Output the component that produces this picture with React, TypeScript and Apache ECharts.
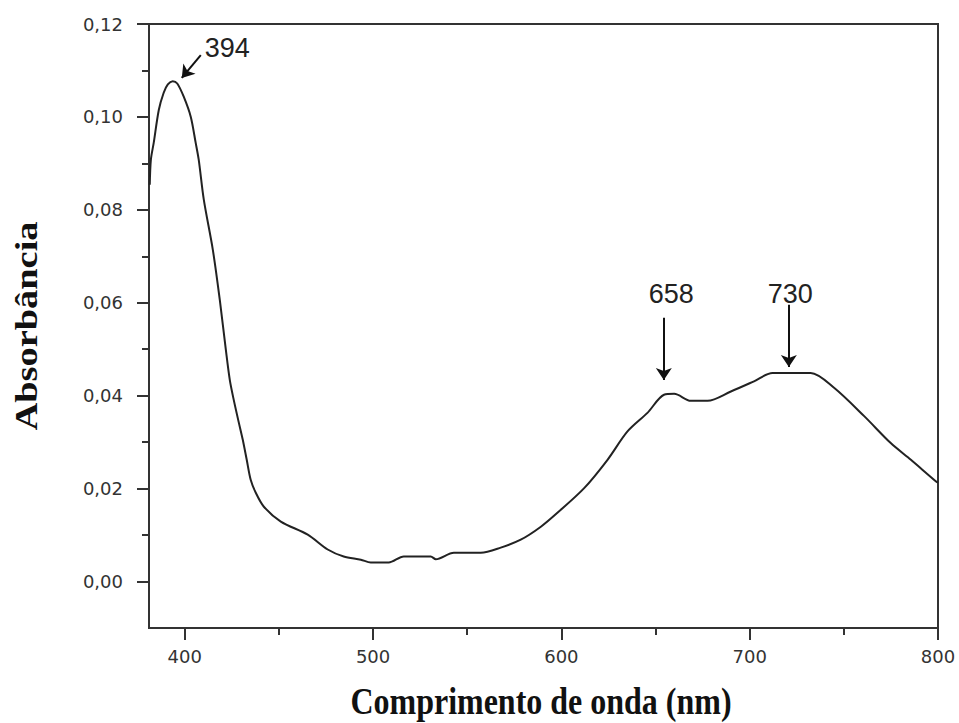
import React, { useEffect, useRef } from "react";
import * as echarts from "echarts";

// Spectrum
const wavelength = [
  381.4, 382, 383.5, 386.2, 388.8, 391, 393.6, 396, 399.5, 403.2, 405.8, 407.4,
  410.1, 414.9, 418.6, 421.8, 423.9, 426.0, 428.7, 430.8, 432.9, 435.0, 437.7,
  442.0, 451.0, 465.3, 475.9, 484.4, 493.5, 498.8, 508.3, 516.3, 530.6, 533.3,
  542.9, 557.2, 567.8, 578.4, 589.1, 597.9, 612.1, 624.5, 635.1, 645.7, 654.5,
  659.9, 668.7, 677.6, 690.0, 702.3, 712.1, 732.4, 744.8, 760.8, 774.9, 785.6,
  798.8, 800,
];
const absorbance = [
  0.0854, 0.0908, 0.0944, 0.1015, 0.1052, 0.107, 0.1077, 0.1072, 0.1043, 0.1,
  0.0944, 0.0908, 0.0822, 0.0714, 0.0606, 0.0499, 0.0434, 0.0391, 0.0342,
  0.0305, 0.0262, 0.0219, 0.0191, 0.0161, 0.0129, 0.0101, 0.0069, 0.0054,
  0.0047, 0.0041, 0.0041, 0.0054, 0.0054, 0.0048, 0.0062, 0.0062, 0.0073,
  0.009, 0.0118, 0.0148, 0.0201, 0.0262, 0.0323, 0.0363, 0.0402, 0.0404,
  0.0389, 0.0389, 0.0409, 0.0431, 0.0449, 0.0449, 0.0417, 0.0356, 0.0298,
  0.0262, 0.0216, 0.0213,
];

// Axes
const xMajorTicks = [400, 500, 600, 700, 800];
const xMinorTicks = [450, 550, 650, 750];
const yMajorTicks = [0, 0.02, 0.04, 0.06, 0.08, 0.1, 0.12];
const yMinorTicks = [0.01, 0.03, 0.05, 0.07, 0.09, 0.11];

// Peak annotations
const peakLabels = ["394", "658", "730"];
const labelX = [422.6, 658.4, 721.5];
const labelY = [0.1148, 0.0619, 0.0619];
const arrowFromX = [408.5, 654.4, 720.8];
const arrowFromY = [0.1133, 0.0568, 0.0596];
const arrowToX = [398.4, 654.4, 720.8];
const arrowToY = [0.1084, 0.0434, 0.0462];

const AXIS_COLOR = "#333";
const TICK_FONT = "DejaVu Sans";

export default function App() {
  const ref = useRef<HTMLDivElement>(null);
  useEffect(() => {
    if (!ref.current) return;
    const chart = echarts.init(ref.current, null, { renderer: "svg" });
    const lineData = wavelength.map((w, i) => [w, absorbance[i]]);
    const fmt = (v: number) => v.toFixed(2).replace(".", ",");
    const option: any = {
      animation: false,
      backgroundColor: "#fff",
      grid: {
        left: 149,
        right: 21,
        top: 24,
        bottom: 95,
        show: true,
        borderColor: AXIS_COLOR,
        borderWidth: 2,
        backgroundColor: "transparent",
      },
      xAxis: [
        {
          type: "value",
          min: 381,
          max: 800,
          position: "bottom",
          axisLine: { show: true, onZero: false, lineStyle: { color: AXIS_COLOR, width: 2 } },
          axisTick: {
            show: true,
            inside: false,
            length: 12,
            customValues: xMajorTicks,
            lineStyle: { color: AXIS_COLOR, width: 2 },
          },
          axisLabel: {
            show: true,
            customValues: xMajorTicks,
            margin: 19,
            fontFamily: TICK_FONT,
            fontSize: 18,
            color: "#333",
          },
          splitLine: { show: false },
        },
        {
          type: "value",
          min: 381,
          max: 800,
          position: "bottom",
          axisLine: { show: false, onZero: false },
          axisTick: {
            show: true,
            inside: false,
            length: 7,
            customValues: xMinorTicks,
            lineStyle: { color: AXIS_COLOR, width: 2 },
          },
          axisLabel: { show: false },
          splitLine: { show: false },
        },
      ],
      yAxis: [
        {
          type: "value",
          min: -0.01,
          max: 0.12,
          position: "left",
          axisLine: { show: true, onZero: false, lineStyle: { color: AXIS_COLOR, width: 2 } },
          axisTick: {
            show: true,
            inside: false,
            length: 12,
            customValues: yMajorTicks,
            lineStyle: { color: AXIS_COLOR, width: 2 },
          },
          axisLabel: {
            show: true,
            customValues: yMajorTicks,
            margin: 26,
            formatter: fmt,
            fontFamily: TICK_FONT,
            fontSize: 18,
            color: "#333",
          },
          splitLine: { show: false },
        },
        {
          type: "value",
          min: -0.01,
          max: 0.12,
          position: "left",
          axisLine: { show: false, onZero: false },
          axisTick: {
            show: true,
            inside: false,
            length: 7,
            customValues: yMinorTicks,
            lineStyle: { color: AXIS_COLOR, width: 2 },
          },
          axisLabel: { show: false },
          splitLine: { show: false },
        },
      ],
      series: [
        {
          type: "line",
          xAxisIndex: 0,
          yAxisIndex: 0,
          data: lineData,
          showSymbol: false,
          smooth: 0.3,
          lineStyle: { color: "#222", width: 2 },
          silent: true,
          markLine: {
            silent: true,
            symbol: ["none", "arrow"],
            symbolSize: 12,
            label: { show: false },
            lineStyle: { color: "#111", width: 2, type: "solid" },
            data: peakLabels.map((_, i) => [
              { coord: [arrowFromX[i], arrowFromY[i]] },
              { coord: [arrowToX[i], arrowToY[i]] },
            ]),
          },
          markPoint: {
            silent: true,
            symbol: "circle",
            symbolSize: 1,
            itemStyle: { color: "rgba(0,0,0,0)" },
            label: {
              show: true,
              position: "inside",
              fontFamily: "Liberation Sans",
              fontSize: 27,
              color: "#222",
              formatter: (p: any) => p.name,
            },
            data: peakLabels.map((t, i) => ({ name: t, coord: [labelX[i], labelY[i]] })),
          },
        },
      ],
      graphic: [
        {
          type: "text",
          x: 541,
          y: 702,
          scaleY: 1.2,
          style: {
            text: "Comprimento de onda (nm)",
            font: 'bold 32px "Liberation Serif"',
            fill: "#111",
            textAlign: "center",
            textVerticalAlign: "middle",
          },
        },
        {
          type: "text",
          x: 27,
          y: 326,
          rotation: Math.PI / 2,
          scaleX: 1.2,
          style: {
            text: "Absorbância",
            font: 'bold 32px "Liberation Serif"',
            fill: "#111",
            textAlign: "center",
            textVerticalAlign: "middle",
          },
        },
      ],
    };
    chart.setOption(option);
    return () => chart.dispose();
  }, []);
  return (
    <div
      ref={ref}
      style={{ position: "fixed", left: 0, top: 0, width: 959, height: 723, background: "#fff" }}
    />
  );
}
